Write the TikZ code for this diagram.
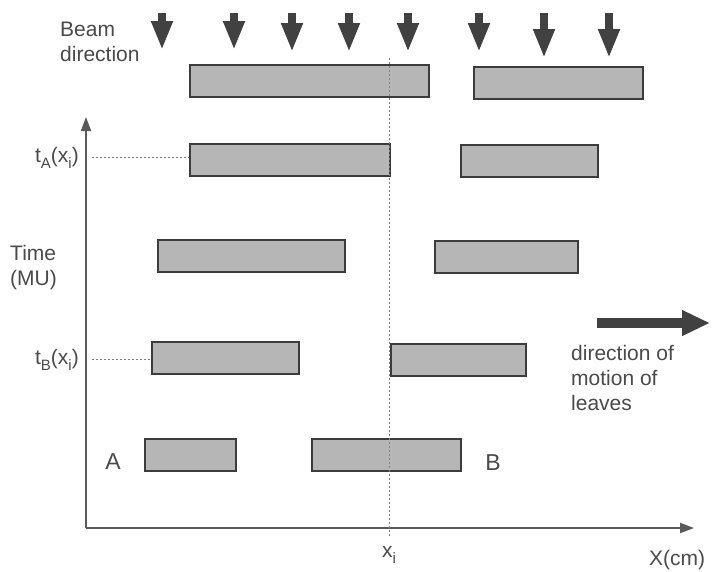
\documentclass[tikz,border=0pt]{standalone}
\usepackage{fontspec}
\setsansfont{Liberation Sans}
\usetikzlibrary{arrows.meta}
\definecolor{ink}{HTML}{4A4A4A}
\definecolor{axisgray}{HTML}{5A5A5A}
\definecolor{leafedge}{HTML}{3C3C3C}
\definecolor{leaffill}{HTML}{B6B6B6}
\definecolor{beamgray}{HTML}{414141}
\definecolor{dotgray}{HTML}{7E7E7E}
\newcommand{\lsub}[1]{\raisebox{-0.3em}{\fontsize{15}{15}\selectfont #1}}
\tikzset{
  font=\sffamily,
  %% nodes
  leaf/.style     = {draw=leafedge, line width=1.5pt, fill=leaffill, inner sep=0pt,
                     minimum height=32pt, anchor=north west},
  lbl/.style      = {font=\sffamily\fontsize{21}{25}\selectfont, text=ink, inner sep=0pt},
  %% lines
  axisline/.style = {draw=axisgray, line width=1.8pt, -{Triangle[width=10pt,length=14pt]}},
  guide/.style    = {draw=dotgray, line width=1pt, dash pattern=on 1.5pt off 2.5pt},
  beam/.style     = {draw=beamgray, line width=8pt, -{Triangle[width=20pt,length=29pt]}},
  motion/.style   = {draw=beamgray, line width=10pt, -{Triangle[width=24pt,length=28pt]}},
}

\begin{document}
\begin{tikzpicture}[x=1pt, y=-1pt]
\useasboundingbox (0,0) rectangle (712,571);

%% ============ beam ============
\node[lbl, anchor=north west, align=left] (beamlbl) at (60,22) {Beam\\direction};
\foreach \x/\tip in {162/50, 234/50, 292/52, 349/52, 408/52, 479/52, 544/58, 609/58} {
  \coordinate (btop\x) at (\x,13);
  \coordinate (btip\x) at (\x,\tip);
  \draw[beam] (btop\x) -- (btip\x);
}

%% ============ axes ============
\coordinate (O)    at (86,528);
\coordinate (ytip) at (86,117);
\coordinate (xtip) at (694,528);
\draw[axisline] (O) -- (ytip);
\draw[axisline] (O) -- (xtip);

%% ============ leaf positions ============
\node[leaf, minimum width=239pt] (A0) at (189,64)  {};
\node[leaf, minimum width=169pt] (B0) at (473,66)  {};
\node[leaf, minimum width=200pt] (A1) at (189,143) {};
\node[leaf, minimum width=137pt] (B1) at (460,144) {};
\node[leaf, minimum width=187pt] (A2) at (157,239) {};
\node[leaf, minimum width=143pt] (B2) at (434,240) {};
\node[leaf, minimum width=147pt] (A3) at (151,341) {};
\node[leaf, minimum width=135pt] (B3) at (390,343) {};
\node[leaf, minimum width=91pt]  (A4) at (144,438) {};
\node[leaf, minimum width=149pt] (B4) at (311,438) {};

%% ============ labels ============
\node[lbl, anchor=base east] (tA) at (79,162) {t\lsub{A}(x\lsub{i})};
\node[lbl, anchor=north west, align=left] (timelbl) at (10,245) {Time\\(MU)};
\node[lbl, anchor=base east] (tB) at (79,364) {t\lsub{B}(x\lsub{i})};
\node[lbl, font=\sffamily\fontsize{23}{23}\selectfont] (Alabel) at (113,462) {A};
\node[lbl, font=\sffamily\fontsize{23}{23}\selectfont] (Blabel) at (493,463) {B};
\node[lbl] (xi)  at (389,555) {x\lsub{i}};
\node[lbl] (xcm) at (677,560) {X(cm)};
\node[lbl, anchor=north west, align=left] (motionlbl) at (571,345) {direction of\\motion of\\leaves};

%% guides
\coordinate (xtop) at (389,58);
\draw[guide, shorten >=9pt] (xtop) -- (xi.north);
\draw[guide, shorten <=13pt] (tA.east) -- (tA.east -| A1.west);
\draw[guide, shorten <=13pt] (tB.east) -- (tB.east -| A3.west);

%% direction of leaf motion
\coordinate (mstart) at (597,323);
\coordinate (mend)   at (710,323);
\draw[motion] (mstart) -- (mend);

\end{tikzpicture}
\end{document}
